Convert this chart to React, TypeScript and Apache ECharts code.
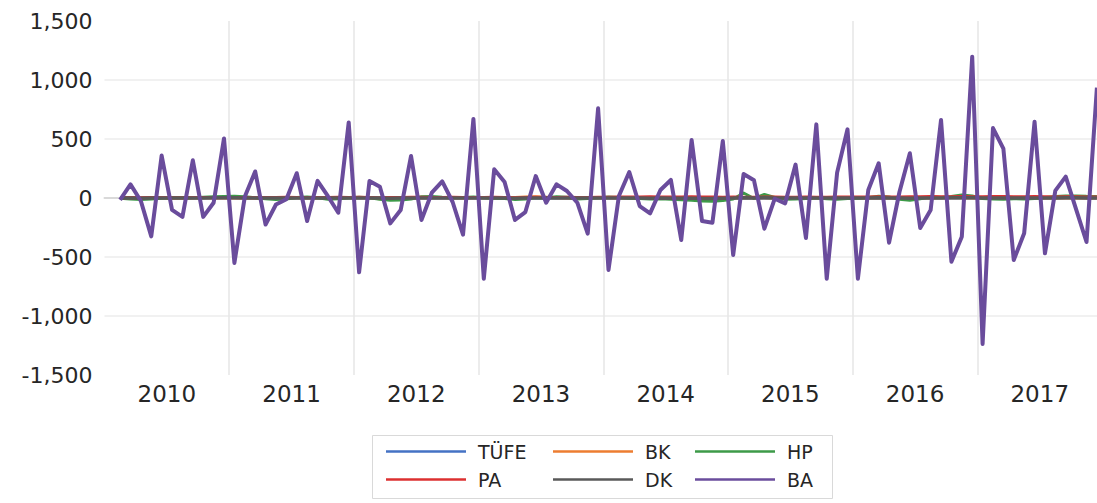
import React, { useEffect, useRef } from "react";
import * as echarts from "echarts";

const YEARS = ["2010", "2011", "2012", "2013", "2014", "2015", "2016", "2017"];
const MONTH_NAMES = ["01", "02", "03", "04", "05", "06", "07", "08", "09", "10", "11", "12"];
const MONTHS = YEARS.flatMap((y) => MONTH_NAMES.map((m) => `${y}-${m}`));

// Values from Feb 2010 to Dec 2017
const TUFE = [
  1, 1, 1, 0, 0, 1, 1, 1, 1, 1, 1,
  1, 1, 0, 0, 1, 1, 1, 1, 1, 1, 1, 1,
  1, 1, 0, 0, 1, 1, 1, 1, 1, 1, 1, 1,
  1, 1, 1, 0, 0, 1, 1, 1, 1, 1, 1, 1,
  1, 1, 1, 1, 0, 0, 1, 1, 1, 1, 1, 1,
  1, 1, 1, 1, 1, 0, 0, 1, 1, 1, 1, 1,
  1, 1, 1, 1, 0, 0, 1, 1, 1, 1, 1, 1,
  1, 1, 1, 1, 1, 1, 1, 1, 1, 1, 1, 1,
];
const BK = [
  -2, -4, -3, 1, 2, 0, -1, 1, 2, 3, 1,
  2, 1, -1, -2, 0, 1, 2, 3, 1, -1, 0, 2,
  3, 2, -6, -8, -4, 0, 2, 3, 4, 2, 1, 3,
  2, 1, 3, 5, 8, 10, 6, 2, 0, -1, 1, 3,
  2, 1, 0, -1, -2, -3, -1, 0, 1, -2, -3, -1,
  1, 4, 2, 3, 1, -1, 0, 1, 2, 1, 0, -1,
  0, 1, 2, 1, -1, -2, 0, 1, 2, 3, 2, 1,
  0, -1, -2, -1, 0, 1, 2, 1, 0, 1, 2, 1,
];
const HP = [
  -3, -8, -12, -8, -2, 3, 4, 3, 6, 10, 13,
  15, 10, 3, -6, -12, -8, 4, 8, 2, -10, -6, 2,
  6, 3, -10, -20, -18, -8, 10, 12, 6, 2, 4, 8,
  3, -2, -5, -12, -8, 4, 2, 10, 6, -8, -4, 2,
  8, 5, -2, -4, -8, -6, -10, -14, -20, -26, -28, -22,
  -8, 42, -4, 30, 5, -10, -8, -4, 2, -6, -10, -4,
  -2, 5, 14, 8, -10, -20, -6, 10, 4, 12, 26, 18,
  -4, -8, -10, -6, -8, -4, 4, 12, 16, 18, 14, 12,
];
const PA = [
  3, 4, 2, 5, 4, 3, 2, 4, 5, 3, 4,
  5, 4, 3, 4, 5, 6, 4, 3, 5, 4, 6, 5,
  6, 4, 3, 5, 4, 6, 7, 5, 4, 6, 5, 4,
  5, 6, 4, 3, 5, 6, 4, 5, 6, 4, 5, 6,
  7, 8, 9, 8, 10, 9, 8, 9, 10, 8, 9, 7,
  8, 6, 7, 9, 8, 7, 6, 8, 7, 6, 8, 9,
  8, 9, 10, 8, 9, 10, 11, 12, 10, 11, 12, 10,
  11, 13, 12, 10, 11, 12, 10, 9, 11, 10, 9, 8,
];
const DK = [
  0, -1, -2, -1, 0, 1, 0, 1, 1, 2, 2,
  2, 1, 0, -1, -1, 0, 1, 1, 0, -1, 0, 1,
  1, 0, -1, -2, -1, 0, 1, 1, 0, 0, 1, 1,
  0, -1, -1, -2, -1, 0, 1, 1, 0, -1, 0, 1,
  1, 0, -1, -1, -2, -1, -2, -3, -3, -4, -4, -3,
  -1, 3, 0, 2, 1, -1, -1, 0, 0, -1, -1, 0,
  0, 1, 2, 1, -1, -2, -1, 1, 1, 2, 3, 2,
  0, -1, -1, 0, -1, 0, 1, 1, 2, 2, 1, 1,
];
const BA = [
  -15, 115, -25, -325, 360, -100, -160, 320, -160, -40, 505,
  -550, 10, 225, -225, -55, -10, 210, -195, 145, 15, -125, 640,
  -630, 144, 96, -215, -102, 356, -186, 45, 141, -34, -311, 670,
  -684, 243, 136, -186, -119, 186, -40, 116, 59, -40, -302, 760,
  -610, 17, 220, -68, -130, 68, 153, -356, 492, -195, -209, 483,
  -483, 203, 150, -260, -6, -45, 283, -339, 624, -684, 215, 582,
  -684, 68, 294, -379, 51, 379, -254, -102, 661, -540, -328, 1198,
  -1237, 593, 418, -525, -299, 647, -469, 62, 181, -96, -373, 935,
];

const SERIES = [
  { name: "TÜFE", data: TUFE, color: "#4472c4", width: 3 },
  { name: "BK", data: BK, color: "#ed7d31", width: 3 },
  { name: "HP", data: HP, color: "#3d9a48", width: 3 },
  { name: "PA", data: PA, color: "#dc3030", width: 3 },
  { name: "DK", data: DK, color: "#595959", width: 3.5 },
  { name: "BA", data: BA, color: "#6a4c9c", width: 4 },
];

const LEGEND_POS = [
  { left: 386, row: 0 },
  { left: 553, row: 0 },
  { left: 695, row: 0 },
  { left: 386, row: 1 },
  { left: 553, row: 1 },
  { left: 695, row: 1 },
];

export default function App() {
  const ref = useRef<HTMLDivElement>(null);
  useEffect(() => {
    if (!ref.current) return;
    const chart = echarts.init(ref.current, null, { renderer: "svg" });
    const font = "DejaVu Sans";
    const option = {
      animation: false,
      backgroundColor: "#ffffff",
      grid: { left: 104.5, top: 21, width: 997.6, height: 354, containLabel: false },
      xAxis: [
        {
          type: "category",
          data: MONTHS,
          boundaryGap: true,
          position: "bottom",
          axisLine: { show: true, onZero: true, lineStyle: { color: "#d9d9d9", width: 2 } },
          axisTick: { show: false },
          axisLabel: { show: false },
          splitLine: { show: false },
        },
        {
          type: "category",
          data: YEARS,
          boundaryGap: true,
          position: "bottom",
          axisLine: { show: false, onZero: false },
          axisTick: { show: false },
          axisLabel: {
            show: true,
            color: "#262626",
            fontFamily: font,
            fontSize: 23,
            margin: 7,
          },
          splitLine: {
            show: true,
            showMinLine: false,
            showMaxLine: false,
            lineStyle: { color: "#e6e6e6", width: 1.5 },
          },
        },
      ],
      yAxis: {
        type: "value",
        min: -1500,
        max: 1500,
        interval: 500,
        axisLine: { show: false },
        axisTick: { show: false },
        axisLabel: {
          color: "#262626",
          fontFamily: font,
          fontSize: 22,
          margin: 12,
          formatter: (v: number) => v.toLocaleString("en-US"),
        },
        splitLine: {
          show: true,
          showMinLine: false,
          showMaxLine: false,
          lineStyle: { color: "#ececec", width: 1.5 },
        },
      },
      legend: SERIES.map((s, i) => ({
        data: [s.name],
        left: LEGEND_POS[i].left,
        top: 442 + LEGEND_POS[i].row * 28,
        orient: "horizontal",
        padding: 0,
        itemWidth: 80,
        itemHeight: 14,
        selectedMode: false,
        icon: "path://M0,6 L80,6 L80,8.5 L0,8.5 Z",
        itemStyle: { color: s.color },
        lineStyle: { width: 0 },
        textStyle: {
          color: "#262626",
          fontFamily: font,
          fontSize: 19,
          padding: [0, 0, 0, 7],
        },
      })),
      graphic: [
        {
          type: "rect",
          shape: { x: 372.5, y: 435.5, width: 460, height: 63 },
          style: { fill: "none", stroke: "#d9d9d9", lineWidth: 1 },
          silent: true,
        },
      ],
      series: SERIES.map((s) => ({
        name: s.name,
        type: "line",
        xAxisIndex: 0,
        yAxisIndex: 0,
        data: [null, ...s.data],
        symbol: "none",
        showSymbol: false,
        color: s.color,
        lineStyle: { color: s.color, width: s.width, join: "round" },
        emphasis: { disabled: true },
      })),
    };
    chart.setOption(option as any);
    return () => chart.dispose();
  }, []);
  return (
    <div
      ref={ref}
      style={{ position: "fixed", left: 0, top: 0, width: 1110, height: 503, background: "#fff" }}
    />
  );
}
